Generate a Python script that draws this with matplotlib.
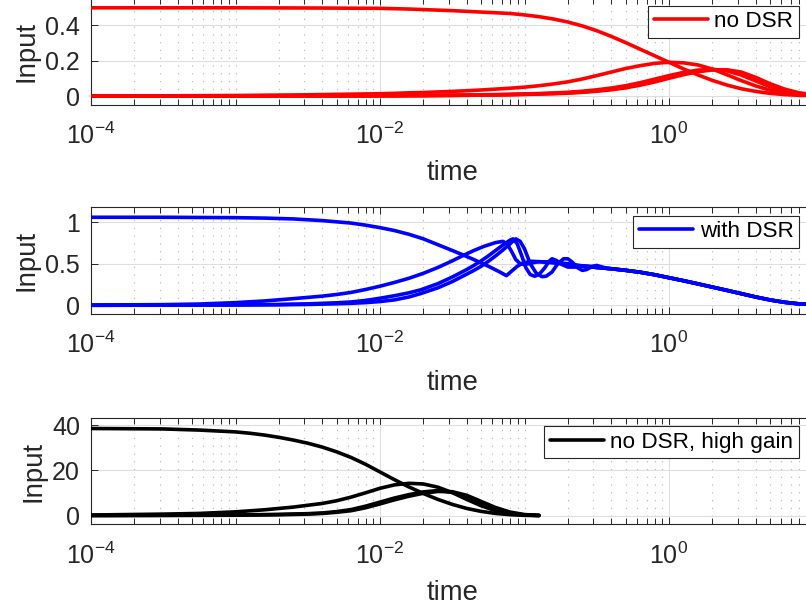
import numpy as np
import matplotlib
matplotlib.use('Agg')
import matplotlib.pyplot as plt

plt.rcParams['font.family'] = ['Liberation Sans', 'DejaVu Sans']
plt.rcParams['mathtext.fontset'] = 'custom'
plt.rcParams['mathtext.rm'] = 'Liberation Sans'
plt.rcParams['mathtext.it'] = 'Liberation Sans:italic'
plt.rcParams['mathtext.bf'] = 'Liberation Sans:bold'

# ---------------- data (log10 time, value) ----------------
# top: no DSR
top_lt = [-4, -3.5, -3, -2.5,
          -2.0, -1.9, -1.8, -1.7, -1.6, -1.5, -1.4, -1.3, -1.2, -1.1, -1.0,
          -0.9, -0.8, -0.7, -0.6, -0.5, -0.4, -0.3, -0.2, -0.1, 0.0,
          0.1, 0.2, 0.3, 0.4, 0.5, 0.6, 0.7, 0.8, 0.9, 1.0]
top_A = [0.497, 0.497, 0.497, 0.496,
         0.494, 0.492, 0.490, 0.487, 0.484, 0.481, 0.477, 0.473, 0.469, 0.465, 0.457,
         0.447, 0.434, 0.417, 0.395, 0.368, 0.336, 0.301, 0.264, 0.227, 0.19,
         0.153, 0.119, 0.088, 0.062, 0.041, 0.026, 0.015, 0.008, 0.004, 0.002]
top_B = [0.0, 0.001, 0.003, 0.007,
         0.013, 0.015, 0.018, 0.02, 0.023, 0.026, 0.03, 0.034, 0.039, 0.044, 0.05,
         0.058, 0.068, 0.08, 0.096, 0.115, 0.135, 0.155, 0.171, 0.184, 0.19,
         0.187, 0.175, 0.152, 0.12, 0.087, 0.057, 0.033, 0.017, 0.008, 0.003]
top_C1 = [0.0, 0.0, 0.001, 0.001,
          0.002, 0.002, 0.003, 0.003, 0.004, 0.005, 0.006, 0.007, 0.008, 0.01, 0.012,
          0.014, 0.017, 0.021, 0.027, 0.035, 0.045, 0.058, 0.075, 0.095, 0.115,
          0.133, 0.146, 0.15, 0.142, 0.118, 0.085, 0.052, 0.027, 0.012, 0.005]
top_C2 = [0.0, 0.0, 0.0, 0.001,
          0.001, 0.002, 0.002, 0.003, 0.003, 0.004, 0.005, 0.006, 0.007, 0.008, 0.01,
          0.012, 0.015, 0.018, 0.023, 0.03, 0.039, 0.051, 0.067, 0.086, 0.107,
          0.126, 0.141, 0.149, 0.146, 0.128, 0.096, 0.061, 0.033, 0.015, 0.006]
top_C3 = [0.0, 0.0, 0.0, 0.001,
          0.001, 0.001, 0.002, 0.002, 0.003, 0.003, 0.004, 0.005, 0.006, 0.007, 0.009,
          0.011, 0.013, 0.016, 0.021, 0.027, 0.035, 0.046, 0.061, 0.079, 0.1,
          0.12, 0.137, 0.147, 0.148, 0.135, 0.105, 0.069, 0.039, 0.018, 0.007]

# middle: with DSR
mid_tail_lt = [-0.4, -0.3, -0.2, -0.1, 0.0, 0.1, 0.2, 0.3, 0.4, 0.5, 0.6, 0.7, 0.8, 0.9, 1.0]
mid_tail = [0.44, 0.421, 0.398, 0.368, 0.332, 0.296, 0.258, 0.219, 0.18, 0.14, 0.1, 0.064, 0.036, 0.017, 0.008]

mid_A_lt = [-4, -3.5, -3, -2.8, -2.6, -2.4, -2.2, -2.1, -2.0, -1.9, -1.8, -1.7, -1.6, -1.5,
            -1.43, -1.35, -1.25, -1.17, -1.125, -1.09, -1.05, -1.01, -0.95, -0.9, -0.8, -0.7,
            -0.6, -0.5]
mid_A = [1.06, 1.06, 1.055, 1.05, 1.04, 1.02, 0.99, 0.965, 0.935, 0.9, 0.855, 0.8, 0.73, 0.66,
         0.61, 0.55, 0.47, 0.4, 0.357, 0.41, 0.47, 0.51, 0.53, 0.525, 0.51, 0.49,
         0.47, 0.455]
mid_B_lt = [-4, -3.5, -3.25, -3.0, -2.8, -2.6, -2.4, -2.3, -2.2, -2.1, -2.0, -1.9, -1.8, -1.7,
            -1.6, -1.5, -1.43, -1.35, -1.28, -1.2, -1.15, -1.12, -1.09, -1.06, -1.03, -1.0,
            -0.95, -0.9, -0.8, -0.7, -0.6, -0.5]
mid_B = [0.003, 0.008, 0.015, 0.032, 0.052, 0.08, 0.11, 0.13, 0.155, 0.19, 0.23, 0.275, 0.325, 0.385,
         0.455, 0.535, 0.595, 0.66, 0.71, 0.755, 0.77, 0.74, 0.65, 0.55, 0.5, 0.49,
         0.51, 0.525, 0.52, 0.5, 0.475, 0.455]
mid_C1_lt = [-4, -3.5, -3, -2.7, -2.5, -2.3, -2.2, -2.1, -2.0, -1.9, -1.8, -1.72, -1.6, -1.5,
             -1.45, -1.4, -1.35, -1.3, -1.25, -1.2, -1.15, -1.1, -1.08, -1.05, -1.02, -0.99,
             -0.96, -0.93, -0.9, -0.86, -0.83, -0.81, -0.78, -0.74, -0.7, -0.65, -0.6, -0.55, -0.5]
mid_C1 = [0.0, 0.002, 0.005, 0.01, 0.017, 0.03, 0.04, 0.058, 0.085, 0.115, 0.15, 0.185, 0.26, 0.34,
          0.385, 0.43, 0.48, 0.535, 0.595, 0.66, 0.725, 0.785, 0.8, 0.74, 0.6, 0.45,
          0.37, 0.35, 0.37, 0.45, 0.53, 0.56, 0.54, 0.49, 0.46, 0.46, 0.475, 0.47, 0.455]
mid_C2_lt = [-4, -3.5, -3, -2.7, -2.5, -2.3, -2.2, -2.1, -2.0, -1.9, -1.8, -1.72, -1.6, -1.5,
             -1.45, -1.4, -1.35, -1.3, -1.25, -1.2, -1.15, -1.1, -1.08, -1.06, -1.03, -1.0,
             -0.96, -0.92, -0.88, -0.85, -0.81, -0.77, -0.73, -0.7, -0.67, -0.63, -0.6, -0.57,
             -0.53, -0.5, -0.47, -0.43]
mid_C2 = [0.0, 0.001, 0.003, 0.006, 0.01, 0.018, 0.024, 0.032, 0.045, 0.065, 0.1, 0.14, 0.21, 0.285,
          0.33, 0.375, 0.42, 0.47, 0.53, 0.595, 0.665, 0.74, 0.775, 0.8, 0.77, 0.68,
          0.5, 0.39, 0.345, 0.35, 0.4, 0.5, 0.56, 0.56, 0.52, 0.45, 0.42, 0.43,
          0.47, 0.48, 0.465, 0.445]

# bottom: no DSR, high gain
bot_A_lt = [-4, -3.5, -3.25, -3.0, -2.9, -2.8, -2.7, -2.6, -2.5, -2.4, -2.3, -2.2, -2.1, -2.0,
            -1.9, -1.8, -1.7, -1.6, -1.5, -1.4, -1.3, -1.2, -1.1, -1.0, -0.9]
bot_A = [38.5, 38.3, 37.8, 37.0, 36.4, 35.6, 34.6, 33.4, 32.0, 30.3, 28.2, 25.7, 22.7, 19.3,
         15.9, 12.7, 9.8, 7.2, 5.0, 3.2, 1.9, 1.0, 0.45, 0.15, 0.05]
bot_B_lt = [-4, -3.5, -3.25, -3.0, -2.8, -2.6, -2.4, -2.3, -2.2, -2.1, -2.0, -1.9, -1.8, -1.7,
            -1.6, -1.5, -1.4, -1.3, -1.2, -1.1, -1.0, -0.9]
bot_B = [0.3, 0.7, 1.0, 1.7, 2.6, 3.8, 5.4, 6.6, 8.2, 10.1, 12.1, 13.6, 14.3, 14.0,
         12.6, 10.2, 7.2, 4.4, 2.2, 0.9, 0.3, 0.1]
bot_C_lt = [-4, -3.5, -3, -2.7, -2.5, -2.4, -2.3, -2.2, -2.1, -2.0, -1.9, -1.8, -1.7, -1.6,
            -1.5, -1.4, -1.3, -1.2, -1.1, -1.0, -0.9]
bot_C1 = [0.1, 0.2, 0.3, 0.6, 0.9, 1.2, 1.8, 2.7, 4.2, 6.0, 7.8, 9.3, 10.5, 11.1,
          10.3, 8.0, 5.2, 2.8, 1.1, 0.35, 0.1]
bot_C2 = [0.05, 0.1, 0.2, 0.4, 0.7, 1.0, 1.5, 2.2, 3.5, 5.2, 7.0, 8.6, 9.9, 10.7,
          10.6, 9.0, 6.3, 3.6, 1.6, 0.5, 0.15]

labels = ['no DSR', 'with DSR', 'no DSR, high gain']
colors = ['#ff0000', '#0000ff', '#000000']
ylims = [(-0.05, 0.55), (-0.105, 1.18), (-3.8, 43.0)]
yticks = [[0, 0.2, 0.4], [0, 0.5, 1], [0, 20, 40]]
yticklabels = [['0', '0.2', '0.4'], ['0', '0.5', '1'], ['0', '20', '40']]
xmajor = [1e-4, 1e-2, 1e0]
xmajorlabels = [r'$\mathdefault{10^{-4}}$', r'$\mathdefault{10^{-2}}$', r'$\mathdefault{10^{0}}$']

# ---------------- layout ----------------
W, H = 806, 610
fig = plt.figure(figsize=(W / 100, H / 100), dpi=100)
axes_px = [(-1.6, 104.9), (207.3, 314.0), (418.3, 524.3)]
legend_top_px = [5.7, 215.7, 426.0]
left_px, right_px = 91.0, 813.5

TXT = (0.15, 0.15, 0.15)
TICK_FS, LABEL_FS, LEG_FS = 18, 19.8, 16.2
LW = 2.6


def tt(lt):
    return 10.0 ** np.asarray(lt)


series = [
    [(top_lt, top_A), (top_lt, top_B), (top_lt, top_C1), (top_lt, top_C2), (top_lt, top_C3)],
    [(mid_A_lt + mid_tail_lt, mid_A + mid_tail), (mid_B_lt + mid_tail_lt, mid_B + mid_tail),
     (mid_C1_lt + mid_tail_lt, mid_C1 + mid_tail), (mid_C2_lt + mid_tail_lt[1:], mid_C2 + mid_tail[1:])],
    [(bot_A_lt, bot_A), (bot_B_lt, bot_B), (bot_C_lt, bot_C1), (bot_C_lt, bot_C2)],
]

minor = []
for e in range(-4, 2):
    for m in range(1, 10):
        v = m * 10.0 ** e
        if v > 10.0001:
            continue
        if any(abs(v - M) / M < 1e-6 for M in xmajor):
            continue
        minor.append(v)

for i in range(3):
    top, bot = axes_px[i]
    ax = fig.add_axes([left_px / W, 1 - bot / H, (right_px - left_px) / W, (bot - top) / H])
    ax.set_xscale('log')
    first = True
    for lt, vals in series[i]:
        ax.plot(tt(lt), vals, color=colors[i], lw=LW, solid_joinstyle='round',
                solid_capstyle='round', label=labels[i] if first else None, zorder=3)
        first = False
    ax.set_xlim(1e-4, 10)
    ax.set_ylim(*ylims[i])
    ax.set_xticks(xmajor)
    ax.set_xticks(minor, minor=True)
    ax.xaxis.set_minor_formatter(matplotlib.ticker.NullFormatter())
    ax.set_xticklabels(xmajorlabels)
    ax.set_yticks(yticks[i])
    ax.set_yticklabels(yticklabels[i])
    ax.grid(True, which='major', color='#dedede', lw=0.8, ls='-', zorder=0)
    ax.grid(True, which='minor', axis='x', color='#b5b5b5', lw=0.8, ls=(0, (1, 6)), zorder=0)
    ax.set_axisbelow(True)
    ax.tick_params(which='both', direction='in', top=True, right=True, colors=TXT,
                   labelcolor=TXT, labelsize=TICK_FS, width=0.7)
    ax.tick_params(which='major', length=5)
    ax.tick_params(which='minor', length=4)
    ax.tick_params(axis='x', pad=13)
    ax.tick_params(axis='y', pad=8)
    for s in ax.spines.values():
        s.set_color(TXT)
        s.set_linewidth(0.8)
    ax.set_xlabel('time', fontsize=LABEL_FS, color=TXT, labelpad=8)
    ax.set_ylabel('Input', fontsize=LABEL_FS, color=TXT, labelpad=4)
    leg = ax.legend(loc='upper right', bbox_to_anchor=(799 / W, 1 - legend_top_px[i] / H),
                    bbox_transform=fig.transFigure, borderaxespad=0, fontsize=LEG_FS,
                    handlelength=2.4, handletextpad=0.3, borderpad=0.25, fancybox=False,
                    framealpha=1, edgecolor=TXT)
    leg.get_frame().set_linewidth(0.8)
    for t in leg.get_texts():
        t.set_color('black')

fig.savefig('out.png', dpi=100)
